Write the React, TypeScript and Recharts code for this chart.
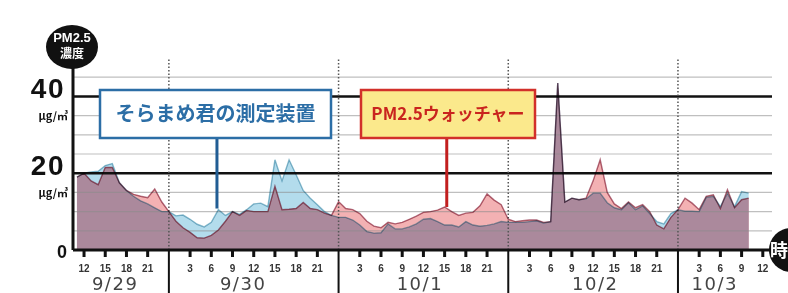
import { ComposedChart, Area, Line, XAxis, YAxis, ReferenceLine } from 'recharts';

// hours counted from 9/29 0:00
const hours = [
  11, 12, 13, 14, 15, 16, 17, 18, 19, 20, 21, 22, 23, 24, 25, 26, 27, 28, 29, 30,
  31, 32, 33, 34, 35, 36, 37, 38, 39, 40, 41, 42, 43, 44, 45, 46, 47, 48, 49, 50,
  51, 52, 53, 54, 55, 56, 57, 58, 59, 60, 61, 62, 63, 64, 65, 66, 67, 68, 69, 70,
  71, 72, 73, 74, 75, 76, 77, 78, 79, 80, 81, 82, 83, 84, 85, 86, 87, 88, 89, 90,
  91, 92, 93, 94, 95, 96, 97, 98, 99, 100, 101, 102, 103, 104, 105, 106,
];

// そらまめ君の測定装置 (µg/m3)
const soramame = [
  19, 20, 20.3, 20.5, 22, 22.5, 17.5, 15.5, 14, 12.8, 12, 11, 10, 10, 8.9, 9.1, 8, 6.7, 6, 7.2,
  10.5, 9, 10, 9.3, 10.5, 12, 12.2, 11.3, 23.5, 18, 23.5, 19.6, 15.5, 13.5, 11.8, 10, 9, 8.5, 8.5, 7.8,
  6.5, 4.8, 4.4, 4.5, 6.8, 5.5, 5.5, 6, 6.8, 8, 8.2, 7.4, 6.5, 6.5, 6, 7.4, 6.5, 6.2, 6.4, 6.8,
  7.4, 7.2, 7.2, 7.2, 7.4, 7.6, 7, 7.4, 43.5, 12.5, 13.5, 13.1, 13.3, 14.8, 14.8, 12.3, 11, 10.5, 12.3, 10.5,
  11.5, 9.5, 7.4, 6.8, 9.5, 10.5, 10.1, 10.1, 10, 13.7, 14, 11.3, 14.8, 11.3, 15.2, 14.8,
];

// PM2.5ウォッチャー (µg/m3)
const watcher = [
  19, 20, 18, 17, 21.5, 21.5, 17.5, 15.5, 14.5, 14, 13.6, 15.9, 12.5, 10, 7.5, 5.8, 4.6, 3.2, 3.1, 3.8,
  5.2, 7.5, 10, 9, 10.3, 10, 10, 10, 16.6, 10.5, 10.6, 10.8, 12.4, 10.8, 10.5, 9.6, 9, 12.6, 10.8, 10.5,
  9.5, 7.5, 6.2, 5.8, 7.2, 6.8, 7.2, 8, 8.8, 9.8, 10, 10.4, 11.2, 10, 9, 9.6, 9.8, 11.5, 14.6, 13,
  11.8, 8, 7.4, 7.6, 7.8, 7.8, 7.2, 7.4, 43.5, 12.5, 13.5, 13.1, 13.5, 18, 23.5, 15, 12, 10.8, 12.5, 11,
  11.8, 10, 6.5, 5.5, 8.5, 10.5, 13.5, 12.2, 10.5, 14, 14.4, 10.8, 15.7, 11, 13.1, 13.5,
];

const hourTicks = [
  12, 15, 18, 21, 24, 27, 30, 33, 36, 39, 42, 45, 48, 51, 54, 57, 60, 63, 66, 69,
  72, 75, 78, 81, 84, 87, 90, 93, 96, 99, 102, 105, 108,
];
const dayBoundaries = [24, 48, 72, 96];
const dayLabels = ['9/29', '9/30', '10/1', '10/2', '10/3'];
const dayLabelAt = [16.4, 34.5, 59.5, 84.3, 101.2];
const grayLines = [5, 10, 15, 25, 30, 35, 45];
const blackLines = [20, 40];
const yTicks = [0, 20, 40];

const data = hours.map((t, i) => ({
  t,
  soramame: soramame[i],
  watcher: watcher[i],
  both: Math.min(soramame[i], watcher[i]),
}));

const X_DOMAIN: [number, number] = [10.44, 109.3];
const SANS = '"Liberation Sans", Arial, sans-serif';
const DAY_FONT = '"DejaVu Sans", sans-serif';
const JP_FONT = '"Noto Sans CJK JP", sans-serif';

const HourTick = (props: any) => {
  const { x, y, payload } = props;
  const v = payload.value;
  if (v % 24 === 0) {
    return <line x1={x} x2={x} y1={y} y2={y + 43} stroke="#111" strokeWidth={2} />;
  }
  return (
    <g>
      <line x1={x} x2={x} y1={y} y2={y + 7} stroke="#111" strokeWidth={3} />
      <text x={x} y={y + 22} textAnchor="middle" fontSize={10} fontWeight="bold"
        fontFamily={SANS} fill="#333">
        {v % 24}
      </text>
    </g>
  );
};

const DayTick = (props: any) => {
  const { x, y, index } = props;
  return (
    <text x={x} y={y + 18} textAnchor="middle" fontSize={18} fontFamily={DAY_FONT}
      fill="#444" letterSpacing={1.5}>
      {dayLabels[index]}
    </text>
  );
};

const YTick = (props: any) => {
  const { x, y, payload } = props;
  if (payload.value === 0) {
    return (
      <text x={x + 2} y={y + 8} textAnchor="end" fontSize={18} fontWeight="bold"
        fontFamily={SANS} fill="#111">0</text>
    );
  }
  return (
    <g>
      <text x={x} y={y + 2} textAnchor="end" fontSize={28} fontWeight="bold"
        fontFamily={SANS} letterSpacing={1.5} fill="#111">{payload.value}</text>
      <text x={x + 3} y={y + 24} textAnchor="end" fontSize={11} fontWeight="bold"
        fontFamily={JP_FONT} fill="#111">μg/㎥</text>
    </g>
  );
};

export default function App() {
  return (
    <div style={{ position: 'absolute', left: 0, top: 0, width: 788, height: 293, background: '#fff' }}>
      <ComposedChart width={788} height={293} data={data}
        margin={{ top: 58, right: 16, bottom: 0, left: 0 }}>
        <XAxis dataKey="t" type="number" domain={X_DOMAIN} allowDataOverflow ticks={hourTicks}
          interval={0} height={22} tickSize={0} tickMargin={0} tickLine={false}
          axisLine={{ stroke: '#111', strokeWidth: 3 }} tick={(p: any) => <HourTick {...p} />} />
        <XAxis xAxisId="day" dataKey="t" type="number" domain={X_DOMAIN} allowDataOverflow
          ticks={dayLabelAt} interval={0} height={21} tickSize={0} tickMargin={0}
          tickLine={false} axisLine={false} tick={(p: any) => <DayTick {...p} />} />
        <YAxis type="number" domain={[0, 50]} allowDataOverflow ticks={yTicks} interval={0}
          width={73} tickSize={0} tickMargin={8} tickLine={false}
          axisLine={{ stroke: '#111', strokeWidth: 3 }} tick={(p: any) => <YTick {...p} />} />

        <Area type="linear" dataKey="soramame" fill="#b3dcec" fillOpacity={1} stroke="none"
          isAnimationActive={false} activeDot={false} />
        <Area type="linear" dataKey="watcher" fill="#f3b1b3" fillOpacity={1} stroke="none"
          isAnimationActive={false} activeDot={false} />
        <Area type="linear" dataKey="both" fill="#ab899c" fillOpacity={1} stroke="none"
          isAnimationActive={false} activeDot={false} />

        {grayLines.map((v) => (
          <ReferenceLine key={`g${v}`} y={v} stroke="#8a8a8a" strokeOpacity={0.55} strokeWidth={1.2} />
        ))}
        {blackLines.map((v) => (
          <ReferenceLine key={`b${v}`} y={v} stroke="#111" strokeWidth={2.5} />
        ))}
        {dayBoundaries.map((v) => (
          <ReferenceLine key={`d${v}`} x={v} stroke="#555" strokeWidth={1.5} strokeDasharray="1.5 2" />
        ))}

        <Line type="linear" dataKey="soramame" stroke="#8cbccd" strokeWidth={1.4} dot={false}
          activeDot={false} isAnimationActive={false} style={{ mixBlendMode: 'multiply' }} />
        <Line type="linear" dataKey="watcher" stroke="#b06a7c" strokeWidth={1.4} dot={false}
          activeDot={false} isAnimationActive={false} style={{ mixBlendMode: 'multiply' }} />

        <ReferenceLine segment={[{ x: 30.8, y: 30 }, { x: 30.8, y: 10.8 }]} stroke="#215d94" strokeWidth={3} />
        <ReferenceLine segment={[{ x: 63.3, y: 30 }, { x: 63.3, y: 11.2 }]} stroke="#c21f1f" strokeWidth={3} />
      </ComposedChart>

      <svg width={788} height={293} style={{ position: 'absolute', left: 0, top: 0, pointerEvents: 'none' }}>
        <ellipse cx={72} cy={47} rx={26} ry={22} fill="#111" />
        <text x={72} y={42} textAnchor="middle" fontSize={13} fontWeight="bold" fontFamily={SANS} fill="#fff">PM2.5</text>
        <text x={72} y={58} textAnchor="middle" fontSize={12} fontWeight="bold" fontFamily={JP_FONT} fill="#fff">濃度</text>

        <circle cx={791} cy={250} r={22} fill="#111" />
        <text x={770} y={257} fontSize={18} fontWeight="bold" fontFamily={JP_FONT} fill="#fff">時</text>

        <rect x={100} y={90} width={231} height={48} fill="#fff" stroke="#2c6ea6" strokeWidth={2.5} />
        <text x={215.5} y={121} textAnchor="middle" fontSize={20} fontWeight="bold" fontFamily={JP_FONT} fill="#2c6ea6">
          そらまめ君の測定装置
        </text>

        <rect x={361} y={90} width={174} height={48} fill="#fbe98c" stroke="#d2302a" strokeWidth={2.5} />
        <text x={448} y={120} textAnchor="middle" fontSize={17} fontWeight="bold" fontFamily={JP_FONT} fill="#c9241e">
          PM2.5ウォッチャー
        </text>
      </svg>
    </div>
  );
}
